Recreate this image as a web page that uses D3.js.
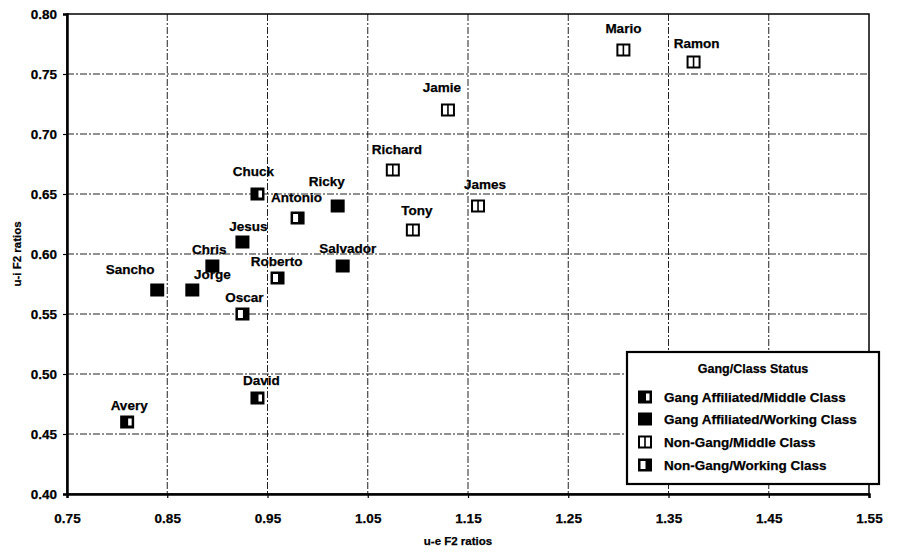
<!DOCTYPE html>
<html>
<head>
<meta charset="utf-8">
<script src="https://cdn.jsdelivr.net/npm/d3@7/dist/d3.min.js"></script>
<style>
  html, body { margin: 0; padding: 0; background: #fff; }
  svg { display: block; }
  text { font-family: "Liberation Sans", Arial, sans-serif; font-weight: bold; fill: #000; stroke: #000; stroke-width: 0.25; }
</style>
</head>
<body>
<svg id="chart" width="900" height="552"></svg>
<script>
// ---- data ----
const names   = ["Mario","Ramon","Jamie","Richard","James","Tony","Chuck","Antonio","Ricky","Jesus","Salvador","Chris","Roberto","Sancho","Jorge","Oscar","David","Avery"];
const ueRatio = [1.305, 1.375, 1.13, 1.075, 1.16, 1.095, 0.94, 0.98, 1.02, 0.925, 1.025, 0.895, 0.96, 0.84, 0.875, 0.925, 0.94, 0.81];
const uiRatio = [0.77, 0.76, 0.72, 0.67, 0.64, 0.62, 0.65, 0.63, 0.64, 0.61, 0.59, 0.59, 0.58, 0.57, 0.57, 0.55, 0.48, 0.46];
const groups  = ["NG_MC","NG_MC","NG_MC","NG_MC","NG_MC","NG_MC","GA_MC","NG_WC","GA_WC","GA_WC","GA_WC","GA_WC","NG_WC","GA_WC","GA_WC","NG_WC","GA_MC","GA_MC"];
const groupKeys   = ["GA_MC","GA_WC","NG_MC","NG_WC"];
const groupLabels = ["Gang Affiliated/Middle Class","Gang Affiliated/Working Class","Non-Gang/Middle Class","Non-Gang/Working Class"];
const legendTitle = "Gang/Class Status";
const xTicks = [0.75, 0.85, 0.95, 1.05, 1.15, 1.25, 1.35, 1.45, 1.55];
const yTicks = [0.40, 0.45, 0.50, 0.55, 0.60, 0.65, 0.70, 0.75, 0.80];
const xTitle = "u-e F2 ratios";
const yTitle = "u-i F2 ratios";

// ---- layout (label offsets in px, relative to marker) ----
const labelDx = [0, 3, -6, 4, 7, 4, -4, -1, -11, 6, 5, -3, -1, -27, 20, 2, 4, 2];
const labelDy = [-22, -19, -23, -21, -22, -20, -23, -21, -25, -16, -18, -17, -17, -21, -16, -17, -18, -17];

const svg = d3.select("#chart");
const L = 67, R = 869, T = 14, B = 494;
const x = d3.scaleLinear().domain([0.75, 1.55]).range([L, R]);
const y = d3.scaleLinear().domain([0.40, 0.80]).range([B, T]);

// gridlines
const grid = svg.append("g");
grid.selectAll("line.h").data(yTicks.slice(1, -1)).join("line")
  .attr("x1", L).attr("x2", R).attr("y1", d => y(d)).attr("y2", d => y(d))
  .attr("stroke", "#222").attr("stroke-width", 1).attr("stroke-dasharray", "7,2,2,2");
grid.selectAll("line.v").data(xTicks.slice(1, -1)).join("line")
  .attr("y1", T).attr("y2", B).attr("x1", d => x(d)).attr("x2", d => x(d))
  .attr("stroke", "#222").attr("stroke-width", 1).attr("stroke-dasharray", "7,2,2,2");

// frame
svg.append("rect").attr("x", L).attr("y", T).attr("width", R - L).attr("height", B - T)
  .attr("fill", "none").attr("stroke", "#000").attr("stroke-width", 1.5);

// axes
const xAxis = d3.axisBottom(x).tickValues(xTicks).tickFormat(d3.format(".2f")).tickSize(4).tickPadding(15);
const yAxis = d3.axisLeft(y).tickValues(yTicks).tickFormat(d3.format(".2f")).tickSize(4).tickPadding(6);
const gx = svg.append("g").attr("transform", `translate(0,${B})`).call(xAxis);
const gy = svg.append("g").attr("transform", `translate(${L},0)`).call(yAxis);
[gx, gy].forEach(g => {
  g.select(".domain").attr("stroke", "#000").attr("stroke-width", 2.5);
  g.selectAll(".tick line").attr("stroke", "#000").attr("stroke-width", 1.2);
  g.selectAll(".tick text").attr("font-size", 13.5).attr("font-family", "Liberation Sans, Arial, sans-serif")
    .attr("font-weight", "bold").attr("fill", "#000").attr("stroke", "#000").attr("stroke-width", 0.25);
});

// axis titles
svg.append("text").attr("x", 458).attr("y", 545).attr("text-anchor", "middle").attr("font-size", 11.5).text(xTitle);
svg.append("text").attr("transform", `translate(21,${(T + B) / 2}) rotate(-90)`).attr("text-anchor", "middle").attr("font-size", 11.5).text(yTitle);

// marker drawing
function drawMarker(g, type) {
  const w = 14, h = 13;
  if (type === "NG_MC") {
    g.append("rect").attr("x", -w/2 + 1).attr("y", -h/2 + 1).attr("width", w - 2).attr("height", h - 2)
      .attr("fill", "#fff").attr("stroke", "#000").attr("stroke-width", 2);
    g.append("line").attr("x1", 0).attr("x2", 0).attr("y1", -h/2 + 1).attr("y2", h/2 - 1)
      .attr("stroke", "#000").attr("stroke-width", 1.6);
  } else {
    g.append("rect").attr("x", -w/2).attr("y", -h/2).attr("width", w).attr("height", h).attr("fill", "#000");
    if (type === "GA_MC") {
      g.append("rect").attr("x", 1).attr("y", -h/2 + 3).attr("width", 3.5).attr("height", h - 6).attr("fill", "#fff");
    } else if (type === "NG_WC") {
      g.append("rect").attr("x", -w/2 + 2.5).attr("y", -h/2 + 2.5).attr("width", 5).attr("height", h - 5).attr("fill", "#fff");
    }
  }
}

// points
const pts = svg.append("g");
names.forEach((n, i) => {
  const g = pts.append("g").attr("transform", `translate(${x(ueRatio[i])},${y(uiRatio[i])})`);
  drawMarker(g, groups[i]);
  svg.append("text").attr("x", x(ueRatio[i]) + labelDx[i]).attr("y", y(uiRatio[i]) + labelDy[i] + 5)
    .attr("text-anchor", "middle").attr("font-size", 13.5).text(n);
});

// legend
const lg = svg.append("g");
lg.append("rect").attr("x", 627).attr("y", 352).attr("width", 252).attr("height", 132)
  .attr("fill", "#fff").attr("stroke", "#000").attr("stroke-width", 2.2);
lg.append("text").attr("x", 753).attr("y", 373).attr("text-anchor", "middle").attr("font-size", 12.5).text(legendTitle);
const rowY = [397, 419, 442, 465];
groupKeys.forEach((k, i) => {
  const g = lg.append("g").attr("transform", `translate(645,${rowY[i]})`);
  drawMarker(g, k);
  lg.append("text").attr("x", 664).attr("y", rowY[i] + 5).attr("font-size", 13.5).text(groupLabels[i]);
});
</script>
</body>
</html>
